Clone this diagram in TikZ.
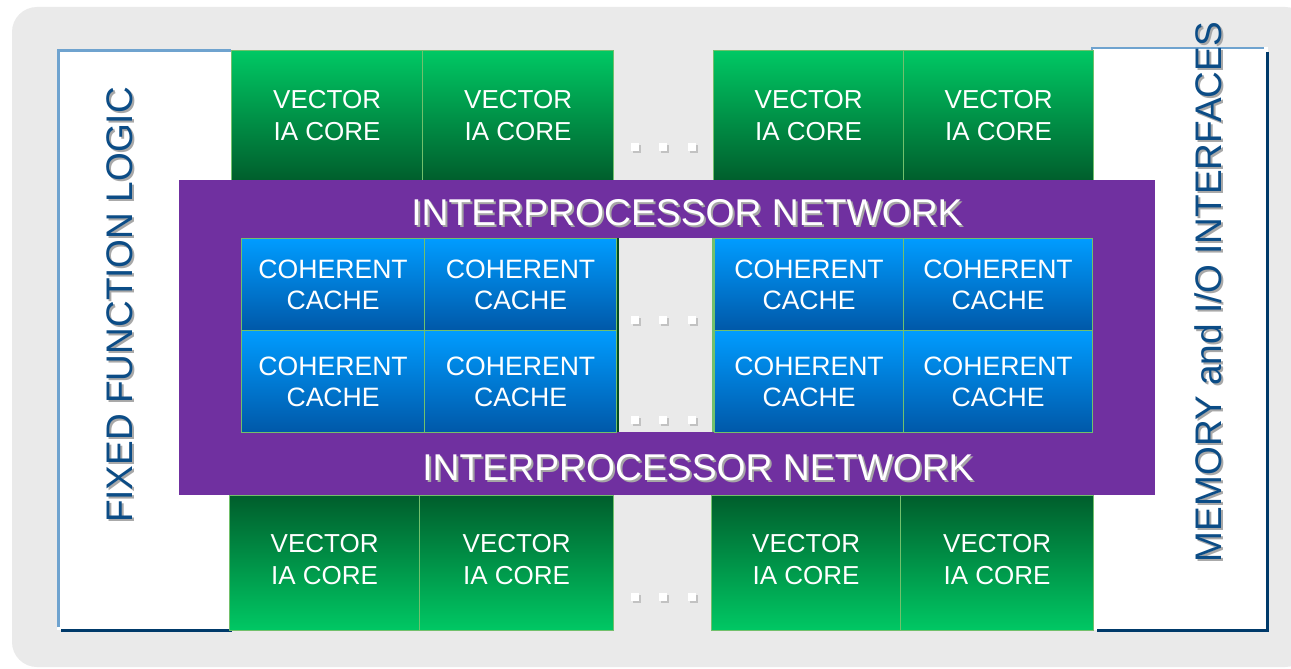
\documentclass[tikz,border=0pt]{standalone}
\usepackage{fontspec}
\setmainfont{Liberation Sans}
\definecolor{bggray}{HTML}{EAEAEA}
\definecolor{lblue}{HTML}{6FA3CF}
\definecolor{navy}{HTML}{003A6A}
\definecolor{glight}{HTML}{00C864}
\definecolor{gdark}{HTML}{005E2C}
\definecolor{gline}{HTML}{72C06C}
\definecolor{btop}{HTML}{009CFF}
\definecolor{bbot}{HTML}{0058A8}
\definecolor{purp}{HTML}{7030A0}
\definecolor{tblue}{HTML}{0B4C86}
\definecolor{shadowgray}{HTML}{A8A8A8}
\begin{document}
\begin{tikzpicture}[x=1pt,y=-1pt,
  cell/.style={rectangle, anchor=north west, inner sep=0pt, align=center, text=white, draw=gline, line width=1.2pt},
  coretop/.style={cell, top color=glight, bottom color=gdark, minimum height=130pt, font=\fontsize{26}{32}\selectfont},
  corebot/.style={cell, top color=gdark, bottom color=glight, minimum height=135pt},
  coretext/.style={inner sep=0pt, align=center, text=white, font=\fontsize{26}{32}\selectfont},
  cachecell/.style={cell, top color=btop, bottom color=bbot, font=\fontsize{26.6}{31}\selectfont},
  sidetitle/.style={rotate=90, inner sep=0pt, font=\fontsize{37}{40}\selectfont},
  nettitle/.style={inner sep=0pt, font=\fontsize{37.3}{40}\selectfont},
  dot/.style={rectangle, fill=white, minimum size=8.5pt, inner sep=0pt},
  dotshadow/.style={rectangle, fill=shadowgray!70, minimum size=8.5pt, inner sep=0pt}
]
\useasboundingbox (0,0) rectangle (1291,669);
\fill[white] (0,0) rectangle (1291,669);
\fill[bggray, rounded corners=25pt] (12,7) rectangle (1310,667);

% side panels
\fill[white] (57,50) rectangle (232,630);
\draw[lblue, line width=3pt] (58,627) -- (58,51) -- (231,51);
\draw[navy, line width=3pt] (61,630) -- (232,630);
\node[sidetitle, text=shadowgray] (fflS) at (122,307) {FIXED FUNCTION LOGIC};
\node[sidetitle, text=tblue] (ffl) at (120,305) {FIXED FUNCTION LOGIC};

\fill[white] (1092,47) rectangle (1268,630);
\draw[lblue, line width=2.5pt] (1092,630) -- (1092,48) -- (1264,48);
\draw[navy, line width=3pt] (1267,52) -- (1267,630) -- (1097,630);
\node[sidetitle, text=shadowgray] (memS) at (1210,294) {MEMORY and I/O INTERFACES};
\node[sidetitle, text=tblue] (mem) at (1208,292) {MEMORY and I/O INTERFACES};

% top cores
\node[coretop, minimum width=191pt] (ct1) at (231,50) {VECTOR\\IA CORE};
\node[coretop, minimum width=191pt] (ct2) at (422,50) {VECTOR\\IA CORE};
\node[coretop, minimum width=190pt] (ct3) at (713,50) {VECTOR\\IA CORE};
\node[coretop, minimum width=190pt] (ct4) at (903,50) {VECTOR\\IA CORE};

% bottom cores
\node[corebot, minimum width=190pt] (cb1) at (229,495) {};
\node[corebot, minimum width=194pt] (cb2) at (419,495) {};
\node[corebot, minimum width=189pt] (cb3) at (711,495) {};
\node[corebot, minimum width=193pt] (cb4) at (900,495) {};
\foreach \c in {cb1,cb2,cb3,cb4}{
  \node[coretext] (\c t) at ([yshift=3.5pt]\c.center) {VECTOR\\IA CORE};
}

% interprocessor network
\fill[purp] (179,180) rectangle (1155,495);
\fill[bggray] (617,238) rectangle (714,432);
\draw[gdark!80!black, line width=2.5pt] (618,238) -- (618,432);
\draw[gline, line width=1.5pt] (713,238) -- (713,432);
\node[nettitle, text=black!35] (net1S) at (689,215) {INTERPROCESSOR NETWORK};
\node[nettitle, text=white] (net1) at (687,213) {INTERPROCESSOR NETWORK};
\node[nettitle, text=black!35] (net2S) at (700,470) {INTERPROCESSOR NETWORK};
\node[nettitle, text=white] (net2) at (698,468) {INTERPROCESSOR NETWORK};

% caches
\node[cachecell, minimum width=183pt, minimum height=92pt] (c11) at (241,238) {COHERENT\\CACHE};
\node[cachecell, minimum width=192pt, minimum height=92pt] (c12) at (424,238) {COHERENT\\CACHE};
\node[cachecell, minimum width=189pt, minimum height=92pt] (c13) at (714,238) {COHERENT\\CACHE};
\node[cachecell, minimum width=189pt, minimum height=92pt] (c14) at (903,238) {COHERENT\\CACHE};
\node[cachecell, minimum width=183pt, minimum height=102pt] (c21) at (241,330) {COHERENT\\CACHE};
\node[cachecell, minimum width=192pt, minimum height=102pt] (c22) at (424,330) {COHERENT\\CACHE};
\node[cachecell, minimum width=189pt, minimum height=102pt] (c23) at (714,330) {COHERENT\\CACHE};
\node[cachecell, minimum width=189pt, minimum height=102pt] (c24) at (903,330) {COHERENT\\CACHE};

% dots
\foreach \r/\yy in {a/147,b/320,c/420,d/597}{
  \foreach \i/\xx in {1/635,2/663,3/692}{
    \node[dotshadow] (ds\r\i) at (\xx+2,\yy+2) {};
    \node[dot] (d\r\i) at (\xx,\yy) {};
  }
}
\end{tikzpicture}
\end{document}
